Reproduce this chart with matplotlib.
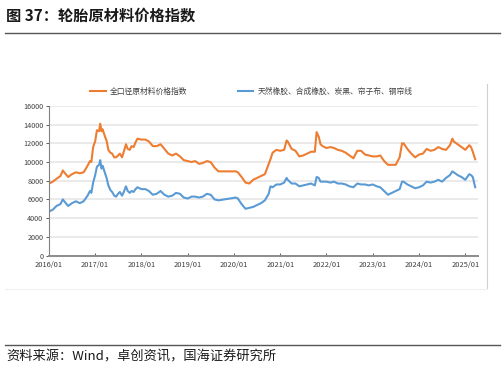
import numpy as np
import pandas as pd
import matplotlib
matplotlib.use('Agg')
import matplotlib.pyplot as plt
from matplotlib.lines import Line2D

plt.rcParams['font.family'] = ['Noto Sans CJK SC', 'DejaVu Sans']
plt.rcParams['axes.unicode_minus'] = False

# 날짜 (대략 월별, 급등 구간은 보름 간격)
dates = [
    '2016-01-01', '2016-02-01', '2016-03-01', '2016-04-01', '2016-04-20', '2016-05-01',
    '2016-06-01', '2016-07-01', '2016-08-01', '2016-09-01', '2016-10-01', '2016-11-01',
    '2016-11-20', '2016-12-01', '2016-12-15', '2017-01-01', '2017-01-15', '2017-02-01',
    '2017-02-10', '2017-02-20', '2017-03-01', '2017-03-20', '2017-04-01', '2017-04-15',
    '2017-05-01', '2017-05-15', '2017-06-01', '2017-06-15', '2017-07-01', '2017-07-15',
    '2017-08-01', '2017-08-15', '2017-09-01', '2017-09-15', '2017-10-01', '2017-10-15',
    '2017-11-01', '2017-11-15', '2017-12-01', '2018-01-01', '2018-02-01', '2018-03-01',
    '2018-04-01', '2018-05-01', '2018-06-01', '2018-07-01', '2018-08-01', '2018-09-01',
    '2018-10-01', '2018-11-01', '2018-12-01', '2019-01-01', '2019-02-01', '2019-03-01',
    '2019-04-01', '2019-05-01', '2019-06-01', '2019-07-01', '2019-08-01', '2019-09-01',
    '2020-01-15', '2020-02-01', '2020-03-01', '2020-04-01', '2020-05-01', '2020-06-01',
    '2020-07-01', '2020-08-01', '2020-09-01', '2020-10-01', '2020-10-15', '2020-11-01',
    '2020-12-01', '2021-01-01', '2021-02-01', '2021-02-20', '2021-03-01', '2021-04-01',
    '2021-05-01', '2021-06-01', '2021-07-01', '2021-08-01', '2021-09-01', '2021-10-01',
    '2021-10-15', '2021-11-01', '2021-11-15', '2021-12-01', '2022-01-01', '2022-02-01',
    '2022-03-01', '2022-04-01', '2022-05-01', '2022-06-01', '2022-07-01', '2022-08-01',
    '2022-09-01', '2022-10-01', '2022-11-01', '2022-12-01', '2023-01-01', '2023-02-01',
    '2023-03-01', '2023-04-01', '2023-05-01', '2023-06-01', '2023-07-01', '2023-08-01',
    '2023-08-20', '2023-09-01', '2023-10-01', '2023-11-01', '2023-12-01', '2024-01-01',
    '2024-02-01', '2024-03-01', '2024-04-01', '2024-05-01', '2024-06-01', '2024-07-01',
    '2024-08-01', '2024-09-01', '2024-09-20', '2024-10-01', '2024-11-01', '2024-12-01',
    '2025-01-01', '2025-02-01', '2025-02-15', '2025-03-01', '2025-03-20',
]

# 全口径原材料价格指数
total_index = [
    7700, 7900, 8200, 8500, 9100, 8900,
    8400, 8700, 8900, 8800, 8900, 9600,
    10100, 10000, 11600, 12200, 13400, 13300,
    14100, 13300, 13500, 12700, 12300, 11300,
    11000, 10900, 10500, 10500, 10700, 10900,
    10500, 11100, 11900, 11400, 11300, 11700,
    11600, 12100, 12500, 12400, 12400, 12200,
    11700, 11700, 11900, 11400, 10900, 10700,
    10900, 10600, 10200, 10100, 10000, 10100,
    9800, 9900, 10100, 10000, 9400, 9000,
    9000, 8900, 8400, 7800, 7700, 8100,
    8300, 8500, 8700, 9800, 10300, 11000,
    11300, 11200, 11300, 12300, 12200, 11400,
    11200, 10600, 10700, 10900, 11100, 11100,
    13200, 12700, 11900, 11700, 11500, 11600,
    11500, 11300, 11200, 11000, 10700, 10400,
    11200, 11200, 10800, 10700, 10600, 10600,
    10700, 10100, 9700, 9700, 9700, 10500,
    12000, 12000, 11400, 10900, 10500, 10800,
    10900, 11400, 11200, 11300, 11600, 11400,
    11300, 11800, 12500, 12200, 11900, 11600,
    11300, 11800, 11600, 11100, 10300,
]

# 天然橡胶、合成橡胶、炭黑、帘子布、钢帘线
main_index = [
    4700, 4900, 5300, 5500, 6000, 5800,
    5300, 5600, 5800, 5600, 5800, 6400,
    6900, 6700, 7800, 8600, 9500, 9700,
    10200, 9300, 9600, 8800, 8300, 7500,
    7000, 6800, 6400, 6300, 6600, 6800,
    6400, 6800, 7400, 6900, 6700, 6900,
    6800, 7100, 7300, 7100, 7100, 6900,
    6500, 6600, 6900, 6500, 6300, 6400,
    6700, 6600, 6200, 6100, 6300, 6300,
    6200, 6300, 6600, 6500, 6000, 5900,
    6200, 6100, 5500, 5000, 5100, 5200,
    5400, 5600, 5900, 6600, 7400, 7300,
    7600, 7600, 7800, 8300, 8100, 7700,
    7700, 7400, 7500, 7600, 7700, 7500,
    8400, 8300, 7900, 7900, 7900, 7800,
    7900, 7700, 7700, 7600, 7400, 7300,
    7700, 7600, 7600, 7500, 7600, 7400,
    7300, 6900, 6500, 6700, 6900, 7100,
    7900, 7900, 7600, 7400, 7200, 7300,
    7500, 7900, 7800, 7900, 8100, 7900,
    8300, 8600, 9000, 8900, 8600, 8400,
    8100, 8700, 8600, 8400, 7300,
]

tick_years = [2016, 2017, 2018, 2019, 2020, 2021, 2022, 2023, 2024, 2025]
y_ticks = [0, 2000, 4000, 6000, 8000, 10000, 12000, 14000, 16000]

d = pd.to_datetime(dates)
x = d.year + (d.dayofyear - 1) / 365.0

fig = plt.figure(figsize=(5.04, 3.73), dpi=100)

# 제목과 구분선
fig.text(0.012, 0.958, '图 37：轮胎原材料价格指数', fontsize=11, fontweight='bold',
         color='#1a1a1a', va='center', ha='left')
fig.add_artist(Line2D([0.01, 0.993], [0.912, 0.912], color='#555555', lw=1.0))

# 차트 영역 테두리 (오른쪽, 아래)
fig.add_artist(Line2D([0.966, 0.966], [0.225, 0.775], color='#d0d0d0', lw=0.8))
fig.add_artist(Line2D([0.01, 0.966], [0.225, 0.225], color='#f0f0f0', lw=0.8))

# 출처
fig.add_artist(Line2D([0.01, 0.993], [0.075, 0.075], color='#555555', lw=1.0))
fig.text(0.012, 0.042, '资料来源：Wind，卓创资讯，国海证券研究所', fontsize=9.5,
         color='#1a1a1a', va='center', ha='left')

ax = fig.add_axes([0.097, 0.315, 0.851, 0.401])
ax.plot(x, total_index, color='#ED7D31', lw=1.5, label='全口径原材料价格指数')
ax.plot(x, main_index, color='#5B9BD5', lw=1.5, label='天然橡胶、合成橡胶、炭黑、帘子布、钢帘线')

ax.set_xlim(2016, 2025.27)
ax.set_ylim(0, 16000)
ax.set_yticks(y_ticks)
ax.set_yticklabels([str(v) for v in y_ticks])
ax.set_xticks(tick_years)
ax.set_xticklabels([f'{yr}/01' for yr in tick_years])
ax.tick_params(axis='y', direction='out', length=2, width=0.6, labelsize=5.2,
               colors='#404040', pad=2)
ax.tick_params(axis='x', direction='in', length=2, width=0.6, labelsize=5.4,
               colors='#404040', pad=4)

ax.yaxis.grid(True, color='#e6e6e6', lw=1.2)
ax.set_axisbelow(True)
for s in ['top', 'right']:
    ax.spines[s].set_visible(False)
ax.spines['left'].set_color('#808080')
ax.spines['left'].set_linewidth(0.8)
ax.spines['bottom'].set_color('#8c8c8c')
ax.spines['bottom'].set_linewidth(1.4)

ax.legend(loc='lower center', bbox_to_anchor=(0.472, 1.02), ncol=2, frameon=False,
          fontsize=5.6, handlelength=2.0, columnspacing=6.5, handletextpad=0.5,
          labelcolor='#404040')

fig.savefig('out.png', dpi=100)
